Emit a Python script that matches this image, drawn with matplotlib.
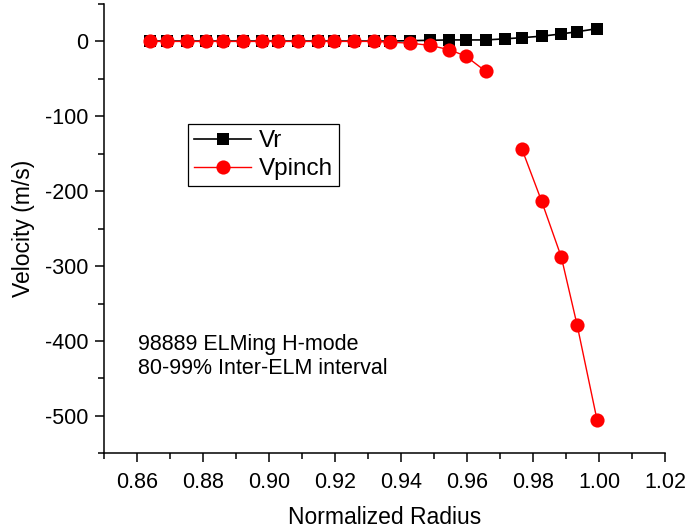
import matplotlib
matplotlib.use("Agg")
import matplotlib.pyplot as plt
import numpy as np

plt.rcParams['font.family'] = ['Liberation Sans', 'DejaVu Sans']
plt.rcParams['axes.unicode_minus'] = False

# Radio normalizado
radio = [0.8638, 0.8689, 0.8750, 0.8808, 0.8859, 0.8919, 0.8979, 0.9027,
         0.9088, 0.9148, 0.9197, 0.9257, 0.9317, 0.9366, 0.9426, 0.9487,
         0.9545, 0.9595, 0.9656, 0.9715, 0.9765, 0.9825, 0.9885, 0.9933,
         0.9993]
# Velocidad radial Vr (m/s)
vr = [0.5, 0.5, 0.5, 0.5, 0.5, 0.5, 0.5, 0.5, 0.5, 0.5, 0.5, 0.5, 0.5,
      0.5, 1, 1.5, 2, 2, 2, 3.5, 5, 7, 10, 13, 17]
# Velocidad de pinch (m/s), hueco en 0.9715
vpinch = [0, 0, 0, 0, 0, 0, 0, 0, 0, 0, 0, 0, 0, -1, -2.3, -5.3, -11,
          -19.5, -40, np.nan, -143, -213, -288, -379, -505]

fig = plt.figure(figsize=(6.85, 5.31), dpi=100)
ax = fig.add_axes([0.1523, 0.1463, 0.9712 - 0.1523, 0.9925 - 0.1463])

ax.plot(radio, vr, color='black', lw=1.2, marker='s', ms=9.2,
        markeredgewidth=0, label='Vr')
ax.plot(radio, vpinch, color='red', lw=1.0, marker='o', ms=10.2,
        markeredgewidth=0, label='Vpinch')

ax.set_xlim(0.85, 1.02)
ax.set_ylim(-550, 50)
ax.set_xticks(np.arange(0.86, 1.0201, 0.02))
ax.set_xticks(np.arange(0.85, 1.0201, 0.01), minor=True)
ax.set_yticks(np.arange(-500, 1, 100))
ax.set_yticks(np.arange(-550, 51, 50), minor=True)
ax.set_xticklabels(['%.2f' % v for v in np.arange(0.86, 1.0201, 0.02)])

for s in ['top', 'right']:
    ax.spines[s].set_visible(False)
for s in ['left', 'bottom']:
    ax.spines[s].set_linewidth(1.1)

ax.tick_params(which='major', direction='out', length=6.7, width=1.1,
               labelsize=15.5, pad=5)
ax.tick_params(which='major', axis='x', pad=6.5)
ax.tick_params(which='minor', direction='out', length=4, width=1.1)

ax.set_xlabel('Normalized Radius', fontsize=16.5, labelpad=9.5)
ax.set_ylabel('Velocity (m/s)', fontsize=16.5, labelpad=7)

leg = ax.legend(loc='upper left', bbox_to_anchor=(0.1497, 0.733),
                borderaxespad=0, fontsize=17.5, fancybox=False,
                framealpha=1, edgecolor='black', handlelength=2.35,
                handletextpad=0.3, borderpad=0.25, labelspacing=0.25)
leg.get_frame().set_linewidth(0.9)

ax.text(0.8603, -391, '98889 ELMing H-mode\n80-99% Inter-ELM interval',
        fontsize=15.5, va='top', ha='left', linespacing=1.2)

fig.savefig('out.png', dpi=100)
